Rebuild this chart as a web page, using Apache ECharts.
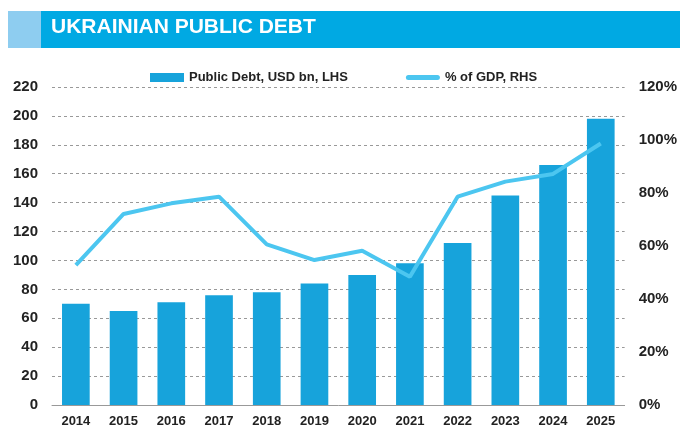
<!DOCTYPE html>
<html><head><meta charset="utf-8">
<script src="https://cdn.jsdelivr.net/npm/echarts@6/dist/echarts.min.js"></script>
<style>html,body{margin:0;padding:0;background:#fff}#c{width:680px;height:428px}</style>
</head><body><div id="c"></div>
<script>
const years = ['2014','2015','2016','2017','2018','2019','2020','2021','2022','2023','2024','2025'];
const debtUsdBn = [70, 65, 71, 76, 78, 84, 90, 98, 112, 145, 166, 198];
const debtPctGdp = [52.8, 72.1, 76.1, 78.6, 60.6, 54.7, 58.2, 48.4, 78.6, 84.3, 87.2, 98.7];
const leftTicks = {min: 0, max: 220, interval: 20};
const rightTicks = {min: 0, max: 120, interval: 20};

const F = '"Liberation Sans Narrow","Arial Narrow","Liberation Sans",Arial,sans-serif';
const chart = echarts.init(document.getElementById('c'), null, {renderer: 'canvas'});
chart.setOption({
  animation: false,
  graphic: [
    {type: 'rect', shape: {x: 8, y: 11, width: 33, height: 37}, style: {fill: '#8ECDF0'}},
    {type: 'rect', shape: {x: 41, y: 11, width: 639, height: 37}, style: {fill: '#00A9E3'}},
    {type: 'text', left: 51, top: 17, style: {text: 'UKRAINIAN PUBLIC DEBT', fill: '#fff', font: 'bold 21px ' + F}}
  ],
  legend: {
    top: 66, left: 145, itemGap: 58, itemWidth: 34, itemHeight: 9,
    textStyle: {fontFamily: F, fontWeight: 'bold', fontSize: 13, color: '#222'},
    data: [
      {name: 'Public Debt, USD bn, LHS', icon: 'rect'},
      {name: '% of GDP, RHS', icon: 'path://M2.5,0 L31.5,0 A2.5,2.5 0 0 1 31.5,5 L2.5,5 A2.5,2.5 0 0 1 2.5,0 Z'}
    ]
  },
  grid: {left: 52, right: 55, top: 87, bottom: 23, containLabel: false},
  xAxis: {
    type: 'category', data: years,
    axisLine: {lineStyle: {color: '#999', width: 1}},
    axisTick: {show: false},
    axisLabel: {fontFamily: F, fontWeight: 'bold', fontSize: 13, color: '#222', margin: 10}
  },
  yAxis: [
    {type: 'value', min: leftTicks.min, max: leftTicks.max, interval: leftTicks.interval,
     axisLine: {show: false}, axisTick: {show: false},
     axisLabel: {fontFamily: F, fontWeight: 'bold', fontSize: 15, color: '#222', margin: 14},
     splitLine: {lineStyle: {color: '#999', type: [3, 3], width: 1}}},
    {type: 'value', min: rightTicks.min, max: rightTicks.max, interval: rightTicks.interval,
     axisLine: {show: false}, axisTick: {show: false},
     axisLabel: {fontFamily: F, fontWeight: 'bold', fontSize: 15, color: '#222', margin: 14, formatter: '{value}%'},
     splitLine: {show: false}}
  ],
  series: [
    {name: 'Public Debt, USD bn, LHS', type: 'bar', data: debtUsdBn, barWidth: '58%',
     itemStyle: {color: '#17A3DB'}, yAxisIndex: 0},
    {name: '% of GDP, RHS', type: 'line', data: debtPctGdp, yAxisIndex: 1,
     symbol: 'none', lineStyle: {color: '#4CC6F0', width: 4}, itemStyle: {color: '#4CC6F0'}}
  ]
});
</script></body></html>
